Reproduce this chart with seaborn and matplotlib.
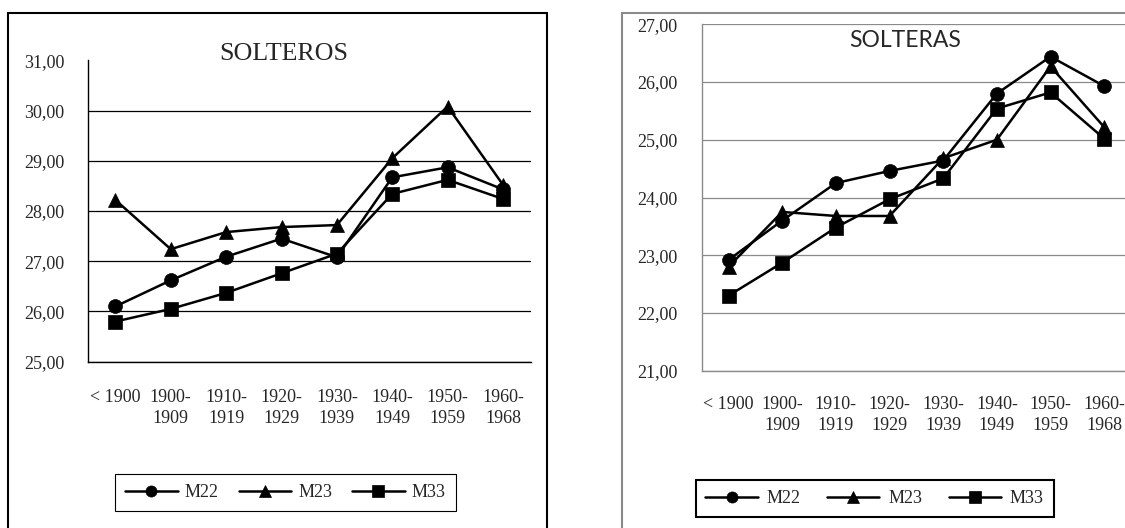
import numpy as np
import pandas as pd
import matplotlib
matplotlib.use("Agg")
import matplotlib.pyplot as plt
import seaborn as sns
from matplotlib.patches import Rectangle
from matplotlib.ticker import FuncFormatter

periodos = ["< 1900", "1900-\n1909", "1910-\n1919", "1920-\n1929", "1930-\n1939",
            "1940-\n1949", "1950-\n1959", "1960-\n1968"]
series = ["M22", "M23", "M33"]
marcadores = {"M22": "o", "M23": "^", "M33": "s"}

solteros_m22 = [26.10, 26.62, 27.09, 27.45, 27.08, 28.67, 28.87, 28.43]
solteros_m23 = [28.22, 27.24, 27.58, 27.68, 27.72, 29.05, 30.08, 28.52]
solteros_m33 = [25.80, 26.05, 26.37, 26.76, 27.15, 28.34, 28.62, 28.24]

solteras_m22 = [22.92, 23.60, 24.25, 24.46, 24.64, 25.80, 26.44, 25.93]
solteras_m23 = [22.80, 23.75, 23.68, 23.68, 24.68, 25.00, 26.27, 25.22]
solteras_m33 = [22.30, 22.87, 23.48, 23.97, 24.33, 25.54, 25.82, 25.02]

sns.set_style("white")
plt.rcParams["font.family"] = ["Liberation Serif", "DejaVu Serif"]

W, H = 1125, 528
fig = plt.figure(figsize=(W / 100, H / 100), dpi=100)


def fx(px):
    return px / W


def fy(py):
    return 1 - py / H


def panel(ax, valores, ylim, color_ejes, ytick_pad, xtick_pad):
    df = pd.DataFrame({
        "periodo": periodos * 3,
        "valor": np.concatenate(valores),
        "serie": np.repeat(series, len(periodos)),
    })
    sns.lineplot(data=df, x="periodo", y="valor", style="serie", markers=marcadores,
                 dashes=False, color="black", linewidth=1.8, markersize=10,
                 markeredgecolor="black", markeredgewidth=0.5, sort=False, ax=ax)
    handles, labels = ax.get_legend_handles_labels()
    if ax.get_legend() is not None:
        ax.get_legend().remove()

    ax.set_xlim(-0.5, len(periodos) - 0.5)
    ax.set_ylim(*ylim)
    ax.set_xlabel("")
    ax.set_ylabel("")
    ax.set_xticks(range(len(periodos)))
    ax.set_xticklabels(periodos, fontsize=13, linespacing=1.25)
    ax.set_xticks(np.arange(-0.5, len(periodos)), minor=True)
    ax.tick_params(axis="x", which="major", length=0, pad=xtick_pad)
    ax.tick_params(axis="x", which="minor", length=5, width=1, color=color_ejes, direction="out")
    ax.set_yticks(range(ylim[0], ylim[1] + 1))
    ax.yaxis.set_major_formatter(FuncFormatter(lambda v, p: f"{v:.2f}".replace(".", ",")))
    ax.tick_params(axis="y", length=6, width=1, color=color_ejes, direction="out",
                   labelsize=13, pad=ytick_pad)
    ax.yaxis.grid(True, color=color_ejes, linewidth=0.9)
    ax.set_axisbelow(True)
    for s in ["top", "right"]:
        ax.spines[s].set_visible(False)
    for s in ["left", "bottom"]:
        ax.spines[s].set_color(color_ejes)
        ax.spines[s].set_linewidth(1)
    return handles, labels


# SOLTEROS
ax1 = fig.add_axes([fx(87.7), fy(361.7), fx(530.7) - fx(87.7), fy(60.3) - fy(361.7)])
h1, l1 = panel(ax1, [solteros_m22, solteros_m23, solteros_m33], (25, 31), "black", 10.8, 20)
ax1.get_ygridlines()[-1].set_visible(False)
fig.text(fx(284), fy(60), "SOLTEROS", ha="center", va="baseline", fontsize=18.7)
fig.add_artist(Rectangle((fx(7.5), -0.05), fx(546.7) - fx(7.5), fy(12.7) + 0.05,
                         transform=fig.transFigure, fill=False, edgecolor="black",
                         linewidth=1.5))
leg1 = ax1.legend(h1, l1, loc="center", bbox_to_anchor=(fx(285.5), fy(492.7)),
                  bbox_transform=fig.transFigure, ncol=3, frameon=True, fancybox=False,
                  edgecolor="black", framealpha=1, fontsize=13, handlelength=2.9,
                  handletextpad=0.4, columnspacing=1.1, borderpad=0.55)
leg1.get_frame().set_linewidth(0.8)

# SOLTERAS
gris = "#8a8a8a"
ax2 = fig.add_axes([fx(701.7), fy(370.7), fx(1131) - fx(701.7), fy(24.3) - fy(370.7)])
h2, l2 = panel(ax2, [solteras_m22, solteras_m23, solteras_m33], (21, 27), gris, 11.3, 18.5)
fig.text(fx(904.7), fy(46.7), "SOLTERAS", ha="center", va="baseline", fontsize=16.5,
         family=["Lato", "DejaVu Sans"])
fig.add_artist(Rectangle((fx(621.7), -0.05), 1.1, fy(12.7) + 0.05,
                         transform=fig.transFigure, fill=False, edgecolor=gris,
                         linewidth=1.5))
leg2 = ax2.legend(h2, l2, loc="center", bbox_to_anchor=(fx(874.7), fy(498.7)),
                  bbox_transform=fig.transFigure, ncol=3, frameon=True, fancybox=False,
                  edgecolor="black", framealpha=1, fontsize=13, handlelength=2.9,
                  handletextpad=0.5, columnspacing=1.45, borderpad=0.55)
leg2.get_frame().set_linewidth(1.5)

for leg in (leg1, leg2):
    for lh in leg.legend_handles:
        lh.set_color("black")
        lh.set_linewidth(1.8)
        lh.set_markersize(8)
        lh.set_markeredgecolor("black")

plt.savefig("out.png", dpi=100)
plt.close()
